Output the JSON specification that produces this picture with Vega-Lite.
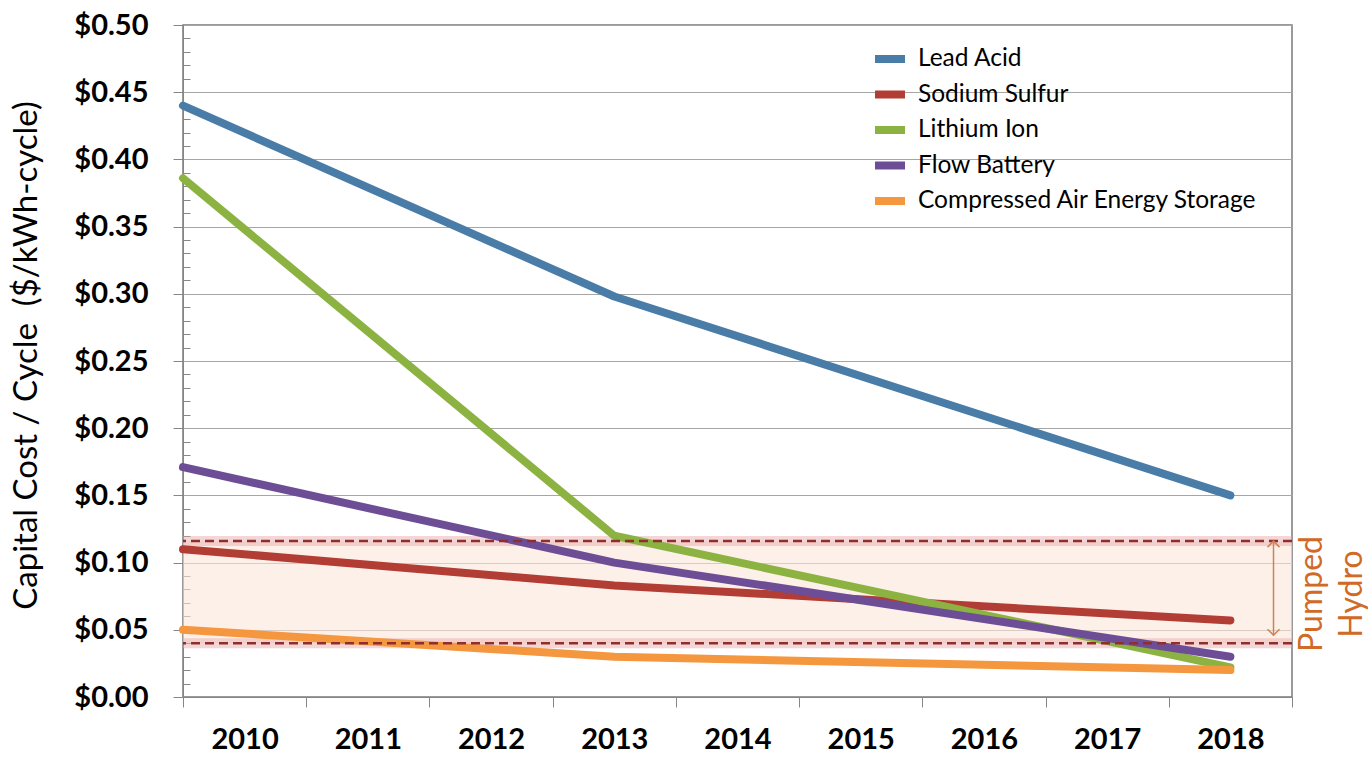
{
  "$schema": "https://vega.github.io/schema/vega-lite/v6.json",
  "autosize": "none",
  "width": 1109,
  "height": 672,
  "padding": {"left": 183, "top": 25, "right": 76, "bottom": 60},
  "background": "white",
  "config": {"view": {"stroke": "#7a7a7a", "strokeWidth": 1.5}, "font": "Lato"},
  "resolve": {"axis": {"y": "independent"}},
  "layer": [
    {
      "data": {"values": [{"cost": 0.04, "cost2": 0.116}]},
      "mark": {"type": "rect", "fill": "#fbe6d8", "opacity": 0.6},
      "encoding": {
        "y": {
          "field": "cost", "type": "quantitative",
          "axis": {
            "orient": "right",
            "offset": -1109,
            "title": null,
            "values": [0.01, 0.02, 0.03, 0.04, 0.06, 0.07, 0.08, 0.09, 0.11, 0.12, 0.13, 0.14, 0.16, 0.17, 0.18, 0.19, 0.21, 0.22, 0.23, 0.24, 0.26, 0.27, 0.28, 0.29, 0.31, 0.32, 0.33, 0.34, 0.36, 0.37, 0.38, 0.39, 0.41, 0.42, 0.43, 0.44, 0.46, 0.47, 0.48, 0.49],
            "labels": false,
            "grid": false,
            "domain": false,
            "ticks": true,
            "tickSize": 7,
            "tickColor": "#868686"
          }
        },
        "y2": {"field": "cost2"}
      }
    },
    {
      "data": {"values": [{"cost": 0.04}, {"cost": 0.116}]},
      "mark": {"type": "rule", "stroke": "#e9a3a3", "strokeWidth": 10, "opacity": 0.45},
      "encoding": {"y": {"field": "cost", "type": "quantitative", "axis": null}}
    },
    {
      "data": {"values": [
        {"series": "Lead Acid", "year": 2009.5, "cost": 0.440},
        {"series": "Lead Acid", "year": 2013, "cost": 0.298},
        {"series": "Lead Acid", "year": 2018, "cost": 0.150},
        {"series": "Sodium Sulfur", "year": 2009.5, "cost": 0.110},
        {"series": "Sodium Sulfur", "year": 2013, "cost": 0.083},
        {"series": "Sodium Sulfur", "year": 2018, "cost": 0.057},
        {"series": "Lithium Ion", "year": 2009.5, "cost": 0.386},
        {"series": "Lithium Ion", "year": 2013, "cost": 0.120},
        {"series": "Lithium Ion", "year": 2018, "cost": 0.022},
        {"series": "Flow Battery", "year": 2009.5, "cost": 0.171},
        {"series": "Flow Battery", "year": 2013, "cost": 0.100},
        {"series": "Flow Battery", "year": 2018, "cost": 0.030},
        {"series": "Compressed Air Energy Storage", "year": 2009.5, "cost": 0.050},
        {"series": "Compressed Air Energy Storage", "year": 2013, "cost": 0.030},
        {"series": "Compressed Air Energy Storage", "year": 2018, "cost": 0.020}
      ]},
      "mark": {"type": "line", "strokeWidth": 8, "strokeCap": "round", "strokeJoin": "round"},
      "encoding": {
        "x": {
          "field": "year", "type": "quantitative",
          "scale": {"domain": [2009.5, 2018.5], "nice": false, "zero": false},
          "axis": {
            "title": null,
            "values": [2009.5, 2010.5, 2011.5, 2012.5, 2013.5, 2014.5, 2015.5, 2016.5, 2017.5, 2018.5],
            "labelExpr": "datum.value < 2018 ? format(datum.value + 0.5, 'd') : ''",
            "labelOffset": 61.6,
            "labelFlush": false,
            "labelOverlap": false,
            "labelBound": false,
            "tickSize": 10,
            "tickColor": "#868686",
            "domainColor": "#868686",
            "labelPadding": 18,
            "labelFont": "Lato",
            "labelFontSize": 29,
            "labelFontWeight": "bold",
            "labelColor": "black",
            "grid": false
          }
        },
        "y": {
          "field": "cost", "type": "quantitative",
          "scale": {"domain": [0, 0.5], "nice": false},
          "axis": {
            "title": "Capital Cost / Cycle \u00a0($/kWh-cycle)",
            "titleFont": "Lato",
            "titleFontSize": 33,
            "titleFontWeight": "normal",
            "titleColor": "black",
            "titleX": -157,
            "titleY": 330,
            "titleAlign": "center",
            "titleBaseline": "middle",
            "titleAngle": -90,
            "values": [0, 0.05, 0.1, 0.15, 0.2, 0.25, 0.3, 0.35, 0.4, 0.45, 0.5],
            "format": "$.2f",
            "labelFont": "Lato",
            "labelFontSize": 29,
            "labelFontWeight": "bold",
            "labelColor": "black",
            "labelPadding": 25,
            "labelOverlap": false,
            "labelFlush": false,
            "grid": true,
            "gridColor": "#a6a6a6",
            "tickSize": 10,
            "tickColor": "#868686",
            "domainColor": "#868686"
          }
        },
        "color": {
          "field": "series", "type": "nominal",
          "scale": {
            "domain": ["Lead Acid", "Sodium Sulfur", "Lithium Ion", "Flow Battery", "Compressed Air Energy Storage"],
            "range": ["#4a7ca8", "#b23d35", "#8cb342", "#6d4e96", "#f5973f"]
          },
          "legend": {
            "title": null,
            "orient": "none",
            "legendX": 688,
            "legendY": 15,
            "symbolType": "stroke",
            "symbolStrokeWidth": 8,
            "symbolSize": 900,
            "labelFont": "Lato",
            "labelFontSize": 24.5,
            "labelColor": "black",
            "labelOffset": 9,
            "rowPadding": 0.5,
            "labelLimit": 600
          }
        }
      }
    },
    {
      "data": {"values": [{"cost": 0.04}, {"cost": 0.116}]},
      "mark": {"type": "rule", "stroke": "#8e2e2e", "strokeWidth": 2.5, "strokeDash": [9, 5]},
      "encoding": {"y": {"field": "cost", "type": "quantitative", "axis": null}}
    },
    {
      "data": {"values": [{}]},
      "mark": {"type": "rule", "stroke": "#cf8352", "strokeWidth": 1.5},
      "encoding": {
        "x": {"datum": 2018.35, "type": "quantitative"},
        "y": {"datum": 0.046, "type": "quantitative", "axis": null},
        "y2": {"datum": 0.116}
      }
    },
    {
      "data": {"values": [{}]},
      "mark": {"type": "point", "shape": "M-1,1L0,0L1,1", "filled": false, "stroke": "#cf8352", "strokeWidth": 1.5, "size": 144, "opacity": 1},
      "encoding": {
        "x": {"datum": 2018.35, "type": "quantitative"},
        "y": {"datum": 0.116, "type": "quantitative", "axis": null}
      }
    },
    {
      "data": {"values": [{}]},
      "mark": {"type": "point", "shape": "M-1,-1L0,0L1,-1", "filled": false, "stroke": "#cf8352", "strokeWidth": 1.5, "size": 144, "opacity": 1},
      "encoding": {
        "x": {"datum": 2018.35, "type": "quantitative"},
        "y": {"datum": 0.046, "type": "quantitative", "axis": null}
      }
    },
    {
      "data": {"values": [{"label": "Pumped"}]},
      "mark": {"type": "text", "angle": 270, "align": "center", "baseline": "middle", "font": "Lato", "fontSize": 32, "fill": "#d06a26"},
      "encoding": {
        "x": {"datum": 2018.66, "type": "quantitative"},
        "y": {"datum": 0.0766, "type": "quantitative", "axis": null},
        "text": {"field": "label"}
      }
    },
    {
      "data": {"values": [{"label": "Hydro"}]},
      "mark": {"type": "text", "angle": 270, "align": "center", "baseline": "middle", "font": "Lato", "fontSize": 32, "fill": "#d06a26"},
      "encoding": {
        "x": {"datum": 2018.99, "type": "quantitative"},
        "y": {"datum": 0.0766, "type": "quantitative", "axis": null},
        "text": {"field": "label"}
      }
    }
  ]
}
